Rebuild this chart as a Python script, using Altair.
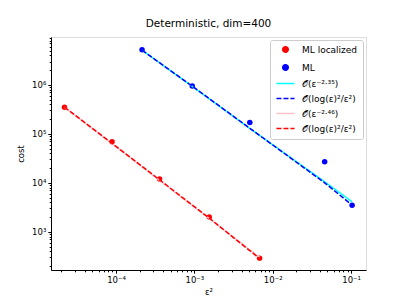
import altair as alt
import pandas as pd

# ---- data ----
series_names = ["ML localized", "ML", "𝒪(ε⁻²·³⁵)", "𝒪(log(ε)²/ε²) ", "𝒪(ε⁻²·⁴⁶)", "𝒪(log(ε)²/ε²)"]
series_colors = ["#ff0000", "#0000ff", "#00ffff", "#0000ff", "#ffc0cb", "#ff0000"]

ml_loc_eps2 = [2.2e-5, 8.9e-5, 3.6e-4, 1.55e-3, 6.8e-3]
ml_loc_cost = [3.5e5, 6.9e4, 1.2e4, 2.0e3, 2.9e2]
ml_eps2 = [2.15e-4, 9.4e-4, 5.1e-3, 4.6e-2, 1.03e-1]
ml_cost = [5.2e6, 9.5e5, 1.7e5, 2.7e4, 3.5e3]

ml_pow_fit = [5.1e6, 9.3e5, 1.29e5, 1.05e4, 4.1e3]
ml_log_fit = [5.1e6, 9.4e5, 1.3e5, 1.0e4, 3.5e3]
loc_pow_fit = [3.5e5, 6.3e4, 1.12e4, 1.86e3, 3.0e2]
loc_log_fit = [3.5e5, 6.4e4, 1.15e4, 1.9e3, 2.85e2]

x_major = [1e-4, 1e-3, 1e-2, 1e-1]
x_major_labels = ["10⁻⁴", "10⁻³", "10⁻²", "10⁻¹"]
y_major = [1e3, 1e4, 1e5, 1e6]
y_major_labels = ["10³", "10⁴", "10⁵", "10⁶"]

x_domain = [1.48e-5, 0.155]
y_domain = [166, 9.5e6]

# ---- tables ----
pts = pd.DataFrame(
    [{"eps2": x, "cost": y, "series": series_names[0]} for x, y in zip(ml_loc_eps2, ml_loc_cost)]
    + [{"eps2": x, "cost": y, "series": series_names[1]} for x, y in zip(ml_eps2, ml_cost)]
)
lines = pd.DataFrame(
    [{"eps2": x, "cost": y, "series": series_names[2]} for x, y in zip(ml_eps2, ml_pow_fit)]
    + [{"eps2": x, "cost": y, "series": series_names[3]} for x, y in zip(ml_eps2, ml_log_fit)]
    + [{"eps2": x, "cost": y, "series": series_names[4]} for x, y in zip(ml_loc_eps2, loc_pow_fit)]
    + [{"eps2": x, "cost": y, "series": series_names[5]} for x, y in zip(ml_loc_eps2, loc_log_fit)]
)


def ticks(lo, hi):
    vals = []
    for e in range(-8, 9):
        for m in range(1, 10):
            v = m * 10.0 ** e
            if lo <= v <= hi:
                vals.append(v)
    return vals


def label_expr(majors, labels):
    expr = "''"
    for v, l in zip(majors, labels):
        expr = f"abs(datum.value/{v}-1)<1e-6 ? '{l}' : ({expr})"
    return expr


def major_test(majors):
    return " || ".join(f"abs(datum.value/{v}-1)<1e-6" for v in majors)


font = "DejaVu Sans"

x_axis = alt.Axis(
    values=ticks(*x_domain), labelExpr=label_expr(x_major, x_major_labels),
    grid=False, domainColor="black", tickColor="black",
    tickSize={"condition": {"test": major_test(x_major), "value": 3.2}, "value": 1.8},
    labelFont=font, labelFontSize=8.5, labelColor="black", labelPadding=2,
    title="ε²", titleFont=font, titleFontSize=8.5, titleFontWeight="normal",
    titleColor="black", titlePadding=4,
)
y_axis = alt.Axis(
    values=ticks(*y_domain), labelExpr=label_expr(y_major, y_major_labels),
    grid=False, domainColor="black", tickColor="black",
    tickSize={"condition": {"test": major_test(y_major), "value": 3.2}, "value": 1.8},
    labelFont=font, labelFontSize=8.5, labelColor="black", labelPadding=2,
    title="cost", titleFont=font, titleFontSize=8.5, titleFontWeight="normal",
    titleColor="black", titlePadding=6,
)

xs = alt.X("eps2:Q", scale=alt.Scale(type="log", domain=x_domain, nice=False), axis=x_axis)
ys = alt.Y("cost:Q", scale=alt.Scale(type="log", domain=y_domain, nice=False), axis=y_axis)

legend = alt.Legend(
    title=None, orient="top-right", offset=3,
    fillColor="white", strokeColor="#cccccc", cornerRadius=2, padding=5,
    labelFont=font, labelFontSize=9, labelColor="black",
    symbolSize=30, symbolOffset=6, labelOffset=12,
    symbolStrokeWidth=1.5, rowPadding=5,
)
handle = "M-3.3,0H3.3"
color = alt.Color("series:N", scale=alt.Scale(domain=series_names, range=series_colors), legend=legend)
shape = alt.Shape("series:N", scale=alt.Scale(domain=series_names,
                  range=["circle", "circle", handle, handle, handle, handle]), legend=legend)
dash = alt.StrokeDash("series:N", scale=alt.Scale(domain=series_names,
                      range=[[1, 0], [1, 0], [1, 0], [5, 2], [1, 0], [5, 2]]), legend=legend)

point_layer = alt.Chart(pts).mark_point(filled=True, opacity=1, size=30).encode(
    x=xs, y=ys, color=color, shape=shape
)
line_layer = alt.Chart(lines).mark_line(strokeWidth=1.5).encode(
    x=xs, y=ys, color=color, strokeDash=dash, detail="series:N"
)

chart = alt.layer(point_layer, line_layer).properties(
    width=315, height=233,
    title=alt.Title("Deterministic, dim=400", font=font, fontSize=10.5,
                    fontWeight="normal", color="black", offset=8),
    autosize=alt.AutoSizeParams(type="none"),
    padding={"left": 43, "top": 29, "right": 33, "bottom": 27},
).configure_view(stroke="black", strokeWidth=1).configure(background="white")

chart.save("out.html", embed_options={"renderer": "svg", "actions": False})
